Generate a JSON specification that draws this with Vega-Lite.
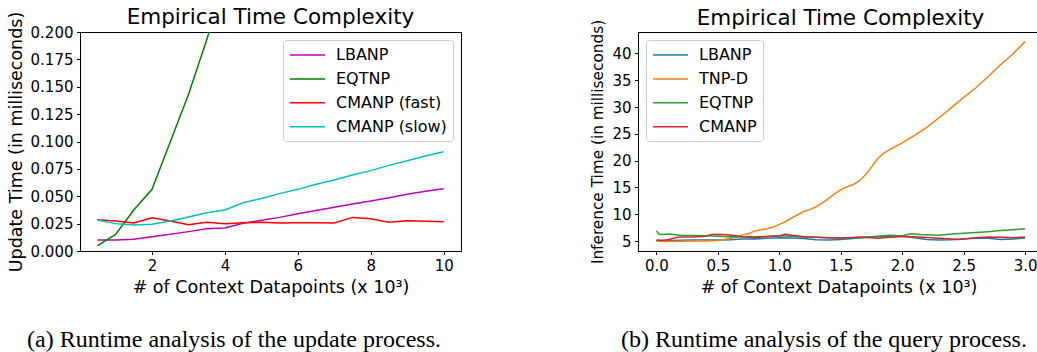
{
  "$schema": "https://vega.github.io/schema/vega-lite/v6.json",
  "padding": {"left": 6, "top": 6, "right": 0, "bottom": 0},
  "background": "white",
  "config": {
    "view": {"stroke": "black", "strokeWidth": 1},
    "axis": {
      "labelFont": "DejaVu Sans", "labelFontSize": 15, "labelColor": "black",
      "titleFont": "DejaVu Sans", "titleFontSize": 17.5, "titleFontWeight": "normal", "titleColor": "black",
      "domainColor": "black", "tickColor": "black", "tickSize": 3.5, "tickWidth": 1, "domainWidth": 1,
      "grid": false, "labelPadding": 3.5, "titlePadding": 5, "labelFlush": false, "labelOverlap": false
    },
    "legend": {
      "title": null, "labelFont": "DejaVu Sans", "labelFontSize": 16, "labelColor": "black",
      "symbolType": "M-1,0H3.375", "symbolSize": 256, "symbolStrokeWidth": 1.5,
      "labelOffset": 29, "rowPadding": 6.9, "padding": 6, "offset": 8,
      "strokeColor": "#cccccc", "fillColor": "white", "cornerRadius": 3
    },
    "title": {"font": "DejaVu Sans", "fontSize": 21.5, "fontWeight": "normal", "color": "black", "offset": 4}
  },
  "spacing": 128,
  "resolve": {"scale": {"color": "independent"}, "legend": {"color": "independent"}},
  "hconcat": [
    {
      "title": {"text": "(a) Runtime analysis of the update process.", "orient": "bottom", "font": "Liberation Serif", "fontSize": 24, "offset": 32, "anchor": "middle", "dx": 0},
      "resolve": {"scale": {"color": "independent"}, "legend": {"color": "independent"}},
      "vconcat": [
        {
          "width": 381, "height": 219,
          "title": {"text": "Empirical Time Complexity", "dy": 21},
          "data": {"values": [
            {"s": "LBANP", "x": 0.5, "y": 0.0100}, {"s": "LBANP", "x": 1.0, "y": 0.0100}, {"s": "LBANP", "x": 1.5, "y": 0.0107},
            {"s": "LBANP", "x": 2.0, "y": 0.0131}, {"s": "LBANP", "x": 2.5, "y": 0.0152}, {"s": "LBANP", "x": 3.0, "y": 0.0177},
            {"s": "LBANP", "x": 3.5, "y": 0.0204}, {"s": "LBANP", "x": 4.0, "y": 0.0210}, {"s": "LBANP", "x": 4.5, "y": 0.0253},
            {"s": "LBANP", "x": 5.0, "y": 0.0280}, {"s": "LBANP", "x": 5.5, "y": 0.0307}, {"s": "LBANP", "x": 6.0, "y": 0.0340},
            {"s": "LBANP", "x": 6.5, "y": 0.0370}, {"s": "LBANP", "x": 7.0, "y": 0.0400}, {"s": "LBANP", "x": 7.5, "y": 0.0430},
            {"s": "LBANP", "x": 8.0, "y": 0.0457}, {"s": "LBANP", "x": 8.5, "y": 0.0487}, {"s": "LBANP", "x": 9.0, "y": 0.0518},
            {"s": "LBANP", "x": 9.5, "y": 0.0545}, {"s": "LBANP", "x": 10.0, "y": 0.0569},
            {"s": "EQTNP", "x": 0.5, "y": 0.0046}, {"s": "EQTNP", "x": 1.0, "y": 0.0152}, {"s": "EQTNP", "x": 1.5, "y": 0.0375},
            {"s": "EQTNP", "x": 2.0, "y": 0.0563}, {"s": "EQTNP", "x": 2.5, "y": 0.0995}, {"s": "EQTNP", "x": 3.0, "y": 0.1430},
            {"s": "EQTNP", "x": 3.5, "y": 0.1930}, {"s": "EQTNP", "x": 4.0, "y": 0.2450}, {"s": "EQTNP", "x": 4.5, "y": 0.3000},
            {"s": "CMANP (fast)", "x": 0.5, "y": 0.0286}, {"s": "CMANP (fast)", "x": 1.0, "y": 0.0274}, {"s": "CMANP (fast)", "x": 1.5, "y": 0.0256},
            {"s": "CMANP (fast)", "x": 2.0, "y": 0.0304}, {"s": "CMANP (fast)", "x": 2.5, "y": 0.0274}, {"s": "CMANP (fast)", "x": 3.0, "y": 0.0240},
            {"s": "CMANP (fast)", "x": 3.5, "y": 0.0262}, {"s": "CMANP (fast)", "x": 4.0, "y": 0.0250}, {"s": "CMANP (fast)", "x": 4.5, "y": 0.0259},
            {"s": "CMANP (fast)", "x": 5.0, "y": 0.0262}, {"s": "CMANP (fast)", "x": 5.5, "y": 0.0256}, {"s": "CMANP (fast)", "x": 6.0, "y": 0.0259},
            {"s": "CMANP (fast)", "x": 6.5, "y": 0.0259}, {"s": "CMANP (fast)", "x": 7.0, "y": 0.0256}, {"s": "CMANP (fast)", "x": 7.5, "y": 0.0307},
            {"s": "CMANP (fast)", "x": 8.0, "y": 0.0295}, {"s": "CMANP (fast)", "x": 8.5, "y": 0.0262}, {"s": "CMANP (fast)", "x": 9.0, "y": 0.0277},
            {"s": "CMANP (fast)", "x": 9.5, "y": 0.0271}, {"s": "CMANP (fast)", "x": 10.0, "y": 0.0268},
            {"s": "CMANP (slow)", "x": 0.5, "y": 0.0283}, {"s": "CMANP (slow)", "x": 1.0, "y": 0.0250}, {"s": "CMANP (slow)", "x": 1.5, "y": 0.0237},
            {"s": "CMANP (slow)", "x": 2.0, "y": 0.0244}, {"s": "CMANP (slow)", "x": 2.5, "y": 0.0274}, {"s": "CMANP (slow)", "x": 3.0, "y": 0.0310},
            {"s": "CMANP (slow)", "x": 3.5, "y": 0.0350}, {"s": "CMANP (slow)", "x": 4.0, "y": 0.0374}, {"s": "CMANP (slow)", "x": 4.5, "y": 0.0441},
            {"s": "CMANP (slow)", "x": 5.0, "y": 0.0480}, {"s": "CMANP (slow)", "x": 5.5, "y": 0.0524}, {"s": "CMANP (slow)", "x": 6.0, "y": 0.0563},
            {"s": "CMANP (slow)", "x": 6.5, "y": 0.0609}, {"s": "CMANP (slow)", "x": 7.0, "y": 0.0648}, {"s": "CMANP (slow)", "x": 7.5, "y": 0.0694},
            {"s": "CMANP (slow)", "x": 8.0, "y": 0.0734}, {"s": "CMANP (slow)", "x": 8.5, "y": 0.0782}, {"s": "CMANP (slow)", "x": 9.0, "y": 0.0825},
            {"s": "CMANP (slow)", "x": 9.5, "y": 0.0868}, {"s": "CMANP (slow)", "x": 10.0, "y": 0.0906}
          ]},
          "mark": {"type": "line", "clip": true, "strokeWidth": 1.5},
          "encoding": {
            "x": {"field": "x", "type": "quantitative", "scale": {"domain": [0.025, 10.475], "nice": false, "zero": false},
                  "axis": {"values": [2, 4, 6, 8, 10], "title": "# of Context Datapoints (x 10³)"}},
            "y": {"field": "y", "type": "quantitative", "scale": {"domain": [0, 0.2], "nice": false},
                  "axis": {"values": [0, 0.025, 0.05, 0.075, 0.1, 0.125, 0.15, 0.175, 0.2], "format": ".3f", "title": "Update Time (in milliseconds)"}},
            "color": {"field": "s", "type": "nominal",
                      "scale": {"domain": ["LBANP", "EQTNP", "CMANP (fast)", "CMANP (slow)"], "range": ["#bf00bf", "#008000", "#ff0000", "#00bfbf"]},
                      "legend": {"orient": "top-right"}}
          }
        }
      ]
    },
    {
      "title": {"text": "(b) Runtime analysis of the query process.", "orient": "bottom", "font": "Liberation Serif", "fontSize": 24, "offset": 32, "anchor": "middle", "dx": 9},
      "resolve": {"scale": {"color": "independent"}, "legend": {"color": "independent"}},
      "vconcat": [
        {
          "width": 401, "height": 219,
          "title": {"text": "Empirical Time Complexity", "dx": 2, "dy": 14},
          "data": {"values": [
            {"s": "LBANP", "x": 0.0, "y": 5.1}, {"s": "LBANP", "x": 0.1, "y": 5.1}, {"s": "LBANP", "x": 0.2, "y": 5.15}, {"s": "LBANP", "x": 0.3, "y": 5.2},
            {"s": "LBANP", "x": 0.4, "y": 5.2}, {"s": "LBANP", "x": 0.5, "y": 5.2}, {"s": "LBANP", "x": 0.6, "y": 5.25}, {"s": "LBANP", "x": 0.7, "y": 5.4},
            {"s": "LBANP", "x": 0.8, "y": 5.4}, {"s": "LBANP", "x": 0.9, "y": 5.5}, {"s": "LBANP", "x": 1.0, "y": 5.6}, {"s": "LBANP", "x": 1.1, "y": 5.55},
            {"s": "LBANP", "x": 1.2, "y": 5.45}, {"s": "LBANP", "x": 1.3, "y": 5.25}, {"s": "LBANP", "x": 1.4, "y": 5.2}, {"s": "LBANP", "x": 1.5, "y": 5.3},
            {"s": "LBANP", "x": 1.6, "y": 5.45}, {"s": "LBANP", "x": 1.7, "y": 5.7}, {"s": "LBANP", "x": 1.8, "y": 5.9}, {"s": "LBANP", "x": 1.9, "y": 6.1},
            {"s": "LBANP", "x": 2.0, "y": 5.95}, {"s": "LBANP", "x": 2.1, "y": 5.6}, {"s": "LBANP", "x": 2.2, "y": 5.3}, {"s": "LBANP", "x": 2.3, "y": 5.2},
            {"s": "LBANP", "x": 2.4, "y": 5.25}, {"s": "LBANP", "x": 2.5, "y": 5.4}, {"s": "LBANP", "x": 2.6, "y": 5.55}, {"s": "LBANP", "x": 2.7, "y": 5.5},
            {"s": "LBANP", "x": 2.8, "y": 5.3}, {"s": "LBANP", "x": 2.9, "y": 5.4}, {"s": "LBANP", "x": 3.0, "y": 5.55},
            {"s": "TNP-D", "x": 0.0, "y": 5.0}, {"s": "TNP-D", "x": 0.1, "y": 4.9}, {"s": "TNP-D", "x": 0.2, "y": 4.95}, {"s": "TNP-D", "x": 0.3, "y": 5.0},
            {"s": "TNP-D", "x": 0.4, "y": 5.0}, {"s": "TNP-D", "x": 0.5, "y": 5.1}, {"s": "TNP-D", "x": 0.55, "y": 5.3}, {"s": "TNP-D", "x": 0.6, "y": 5.5},
            {"s": "TNP-D", "x": 0.65, "y": 5.75}, {"s": "TNP-D", "x": 0.7, "y": 6.1}, {"s": "TNP-D", "x": 0.75, "y": 6.4}, {"s": "TNP-D", "x": 0.8, "y": 6.85},
            {"s": "TNP-D", "x": 0.85, "y": 7.1}, {"s": "TNP-D", "x": 0.9, "y": 7.3}, {"s": "TNP-D", "x": 0.95, "y": 7.6}, {"s": "TNP-D", "x": 1.0, "y": 8.1},
            {"s": "TNP-D", "x": 1.05, "y": 8.6}, {"s": "TNP-D", "x": 1.1, "y": 9.3}, {"s": "TNP-D", "x": 1.15, "y": 9.9}, {"s": "TNP-D", "x": 1.2, "y": 10.5},
            {"s": "TNP-D", "x": 1.25, "y": 10.9}, {"s": "TNP-D", "x": 1.3, "y": 11.4}, {"s": "TNP-D", "x": 1.35, "y": 12.1}, {"s": "TNP-D", "x": 1.4, "y": 12.9},
            {"s": "TNP-D", "x": 1.45, "y": 13.8}, {"s": "TNP-D", "x": 1.5, "y": 14.6}, {"s": "TNP-D", "x": 1.55, "y": 15.1}, {"s": "TNP-D", "x": 1.6, "y": 15.5},
            {"s": "TNP-D", "x": 1.65, "y": 16.2}, {"s": "TNP-D", "x": 1.7, "y": 17.3}, {"s": "TNP-D", "x": 1.75, "y": 18.8}, {"s": "TNP-D", "x": 1.8, "y": 20.4},
            {"s": "TNP-D", "x": 1.85, "y": 21.4}, {"s": "TNP-D", "x": 1.9, "y": 22.1}, {"s": "TNP-D", "x": 2.0, "y": 23.3}, {"s": "TNP-D", "x": 2.1, "y": 24.7},
            {"s": "TNP-D", "x": 2.2, "y": 26.2}, {"s": "TNP-D", "x": 2.3, "y": 28.0}, {"s": "TNP-D", "x": 2.4, "y": 29.9}, {"s": "TNP-D", "x": 2.5, "y": 31.8},
            {"s": "TNP-D", "x": 2.6, "y": 33.6}, {"s": "TNP-D", "x": 2.7, "y": 35.7}, {"s": "TNP-D", "x": 2.8, "y": 37.9}, {"s": "TNP-D", "x": 2.9, "y": 39.9},
            {"s": "TNP-D", "x": 3.0, "y": 42.2},
            {"s": "EQTNP", "x": 0.0, "y": 6.9}, {"s": "EQTNP", "x": 0.02, "y": 6.3}, {"s": "EQTNP", "x": 0.04, "y": 6.2}, {"s": "EQTNP", "x": 0.1, "y": 6.3},
            {"s": "EQTNP", "x": 0.2, "y": 6.1}, {"s": "EQTNP", "x": 0.3, "y": 6.05}, {"s": "EQTNP", "x": 0.4, "y": 6.0}, {"s": "EQTNP", "x": 0.5, "y": 5.9},
            {"s": "EQTNP", "x": 0.6, "y": 5.8}, {"s": "EQTNP", "x": 0.7, "y": 5.75}, {"s": "EQTNP", "x": 0.8, "y": 5.8}, {"s": "EQTNP", "x": 0.9, "y": 5.85},
            {"s": "EQTNP", "x": 1.0, "y": 6.0}, {"s": "EQTNP", "x": 1.1, "y": 5.9}, {"s": "EQTNP", "x": 1.2, "y": 5.75}, {"s": "EQTNP", "x": 1.3, "y": 5.7},
            {"s": "EQTNP", "x": 1.4, "y": 5.6}, {"s": "EQTNP", "x": 1.5, "y": 5.6}, {"s": "EQTNP", "x": 1.6, "y": 5.6}, {"s": "EQTNP", "x": 1.7, "y": 5.6},
            {"s": "EQTNP", "x": 1.8, "y": 5.8}, {"s": "EQTNP", "x": 1.9, "y": 5.9}, {"s": "EQTNP", "x": 2.0, "y": 6.0}, {"s": "EQTNP", "x": 2.07, "y": 6.35},
            {"s": "EQTNP", "x": 2.15, "y": 6.2}, {"s": "EQTNP", "x": 2.3, "y": 6.1}, {"s": "EQTNP", "x": 2.4, "y": 6.3}, {"s": "EQTNP", "x": 2.5, "y": 6.45},
            {"s": "EQTNP", "x": 2.6, "y": 6.6}, {"s": "EQTNP", "x": 2.7, "y": 6.75}, {"s": "EQTNP", "x": 2.8, "y": 6.95}, {"s": "EQTNP", "x": 2.9, "y": 7.1},
            {"s": "EQTNP", "x": 3.0, "y": 7.3},
            {"s": "CMANP", "x": 0.0, "y": 5.2}, {"s": "CMANP", "x": 0.05, "y": 5.1}, {"s": "CMANP", "x": 0.1, "y": 5.3}, {"s": "CMANP", "x": 0.18, "y": 5.75},
            {"s": "CMANP", "x": 0.3, "y": 5.75}, {"s": "CMANP", "x": 0.4, "y": 5.9}, {"s": "CMANP", "x": 0.45, "y": 6.2}, {"s": "CMANP", "x": 0.55, "y": 6.2},
            {"s": "CMANP", "x": 0.65, "y": 6.0}, {"s": "CMANP", "x": 0.7, "y": 5.8}, {"s": "CMANP", "x": 0.8, "y": 5.6}, {"s": "CMANP", "x": 0.9, "y": 5.85},
            {"s": "CMANP", "x": 1.0, "y": 6.0}, {"s": "CMANP", "x": 1.05, "y": 6.25}, {"s": "CMANP", "x": 1.1, "y": 6.1}, {"s": "CMANP", "x": 1.2, "y": 5.8},
            {"s": "CMANP", "x": 1.3, "y": 5.7}, {"s": "CMANP", "x": 1.4, "y": 5.6}, {"s": "CMANP", "x": 1.5, "y": 5.55}, {"s": "CMANP", "x": 1.6, "y": 5.65},
            {"s": "CMANP", "x": 1.65, "y": 5.75}, {"s": "CMANP", "x": 1.7, "y": 5.7}, {"s": "CMANP", "x": 1.8, "y": 5.5}, {"s": "CMANP", "x": 1.9, "y": 5.7},
            {"s": "CMANP", "x": 2.0, "y": 5.85}, {"s": "CMANP", "x": 2.1, "y": 5.8}, {"s": "CMANP", "x": 2.2, "y": 5.65}, {"s": "CMANP", "x": 2.3, "y": 5.5},
            {"s": "CMANP", "x": 2.4, "y": 5.4}, {"s": "CMANP", "x": 2.46, "y": 5.3}, {"s": "CMANP", "x": 2.6, "y": 5.6}, {"s": "CMANP", "x": 2.7, "y": 5.75},
            {"s": "CMANP", "x": 2.8, "y": 5.7}, {"s": "CMANP", "x": 2.9, "y": 5.6}, {"s": "CMANP", "x": 3.0, "y": 5.75}
          ]},
          "mark": {"type": "line", "clip": true, "strokeWidth": 1.5},
          "encoding": {
            "x": {"field": "x", "type": "quantitative", "scale": {"domain": [-0.15, 3.113], "nice": false, "zero": false},
                  "axis": {"values": [0, 0.5, 1, 1.5, 2, 2.5, 3], "format": ".1f", "title": "# of Context Datapoints (x 10³)"}},
            "y": {"field": "y", "type": "quantitative", "scale": {"domain": [3.14, 44.0], "nice": false, "zero": false},
                  "axis": {"values": [5, 10, 15, 20, 25, 30, 35, 40], "title": "Inference Time (in milliseconds)", "titleFontSize": 15.3, "titlePadding": 6}},
            "color": {"field": "s", "type": "nominal",
                      "scale": {"domain": ["LBANP", "TNP-D", "EQTNP", "CMANP"], "range": ["#1f77b4", "#ff7f0e", "#2ca02c", "#d62728"]},
                      "legend": {"orient": "top-left"}}
          }
        }
      ]
    }
  ]
}
